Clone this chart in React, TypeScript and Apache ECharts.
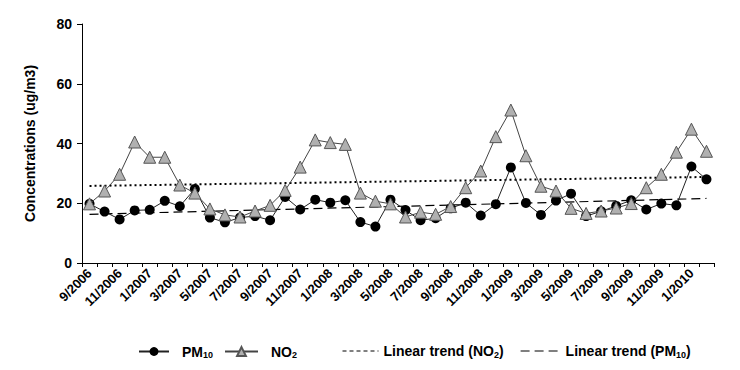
import React, { useEffect, useRef } from "react";
import * as echarts from "echarts";

const categories: string[] = [
  "9/2006", "10/2006", "11/2006", "12/2006",
  "1/2007", "2/2007", "3/2007", "4/2007", "5/2007", "6/2007", "7/2007", "8/2007", "9/2007", "10/2007", "11/2007", "12/2007",
  "1/2008", "2/2008", "3/2008", "4/2008", "5/2008", "6/2008", "7/2008", "8/2008", "9/2008", "10/2008", "11/2008", "12/2008",
  "1/2009", "2/2009", "3/2009", "4/2009", "5/2009", "6/2009", "7/2009", "8/2009", "9/2009", "10/2009", "11/2009", "12/2009",
  "1/2010", "2/2010",
];

const pm10: number[] = [
  19.8, 17.2, 14.6, 17.6, 17.8, 20.8, 19.0, 24.8, 15.2, 13.6, 15.2, 15.7,
  14.3, 22.1, 17.9, 21.2, 20.2, 21.0, 13.7, 12.2, 21.2, 17.7, 14.3, 15.0,
  18.3, 20.2, 15.9, 19.7, 32.0, 20.1, 16.1, 20.9, 23.2, 15.7, 17.3, 19.1,
  21.0, 17.9, 19.9, 19.3, 32.3, 28.0,
];

const no2: number[] = [
  19.8, 24.1, 29.7, 40.5, 35.4, 35.4, 26.1, 23.4, 18.1, 16.1, 15.4, 17.4,
  19.3, 24.3, 32.1, 41.2, 40.3, 39.7, 23.4, 20.7, 19.8, 15.4, 17.0, 16.3,
  18.9, 25.2, 30.8, 42.3, 51.2, 35.9, 25.7, 24.1, 18.3, 16.6, 17.4, 18.4,
  19.9, 25.2, 29.7, 37.1, 44.8, 37.4,
];

// Trend line values at the first and last month
const no2Trend: number[] = [25.8, 28.8];
const pm10Trend: number[] = [16.3, 21.6];

const yTicks: number[] = [0, 20, 40, 60, 80];

const FONT = "'Liberation Sans', Arial, sans-serif";

const richStyles = {
  g: { width: 8, fontSize: 14 },
  h: { width: 3, fontSize: 14 },
  b: { fontFamily: FONT, fontWeight: "bold", fontSize: 14, color: "#000" },
  s: { fontFamily: FONT, fontWeight: "bold", fontSize: 9, color: "#000", padding: [7, 0, 0, 0] },
};

function legendFormatter(name: string): string {
  if (name === "PM10") return "{g|}{b|PM}{s|10}";
  if (name === "NO2") return "{g|}{b|NO}{s|2}";
  if (name === "Linear trend (NO2)") return "{b|Linear trend (NO}{s|2}{b|)}";
  if (name === "Linear trend (PM10)") return "{h|}{b|Linear trend (PM}{s|10}{b|)}";
  return name;
}

function legendItem(name: string, left: number, width: number, height: number, extra: any = {}) {
  return {
    left,
    top: 345 - height / 2,
    itemWidth: width,
    itemHeight: height,
    data: [name],
    formatter: legendFormatter,
    textStyle: { rich: richStyles },
    ...extra,
  };
}

export default function App() {
  const ref = useRef<HTMLDivElement>(null);

  useEffect(() => {
    if (!ref.current) return;
    const chart = echarts.init(ref.current, null, { renderer: "svg" });
    const last = categories.length - 1;
    chart.setOption({
      animation: false,
      backgroundColor: "#fff",
      textStyle: { fontFamily: FONT },
      grid: { left: 82, right: 26, top: 24, bottom: 107, containLabel: false },
      legend: [
        legendItem("PM10", 133, 30, 11),
        legendItem("NO2", 219, 33, 11),
        legendItem("Linear trend (NO2)", 337, 36, 12, {
          lineStyle: { type: [4, 3], width: 1, color: "#000" },
          itemStyle: { color: "rgba(0,0,0,0)", borderWidth: 0 },
        }),
        legendItem("Linear trend (PM10)", 515, 37, 12, {
          lineStyle: { type: [9, 5], width: 1.2, color: "#000" },
          itemStyle: { color: "rgba(0,0,0,0)", borderWidth: 0 },
        }),
      ],
      xAxis: {
        type: "category",
        data: categories,
        boundaryGap: true,
        axisLine: { lineStyle: { color: "#000", width: 1 } },
        axisTick: { show: true, interval: 0, length: 4, alignWithLabel: false, lineStyle: { color: "#000" } },
        axisLabel: {
          interval: 1,
          rotate: 45,
          margin: 8,
          fontFamily: FONT,
          fontWeight: "bold",
          fontSize: 13,
          color: "#000",
        },
        splitLine: { show: false },
      },
      yAxis: {
        type: "value",
        min: yTicks[0],
        max: yTicks[yTicks.length - 1],
        interval: 20,
        name: "Concentrations (ug/m3)",
        nameLocation: "middle",
        nameGap: 45,
        nameTextStyle: { fontFamily: FONT, fontWeight: "bold", fontSize: 14, color: "#000" },
        axisLine: { show: true, lineStyle: { color: "#000", width: 1 } },
        axisTick: { show: true, length: 5, lineStyle: { color: "#000" } },
        axisLabel: { fontFamily: FONT, fontWeight: "bold", fontSize: 14, color: "#000", margin: 10 },
        splitLine: { show: false },
      },
      series: [
        {
          name: "Linear trend (NO2)",
          type: "line",
          data: [
            [categories[0], no2Trend[0]],
            [categories[last], no2Trend[1]],
          ],
          symbol: "none",
          lineStyle: { color: "#000", width: 2, type: [2, 3] },
          itemStyle: { color: "rgba(0,0,0,0)" },
          z: 1,
        },
        {
          name: "Linear trend (PM10)",
          type: "line",
          data: [
            [categories[0], pm10Trend[0]],
            [categories[last], pm10Trend[1]],
          ],
          symbol: "none",
          lineStyle: { color: "#000", width: 1.2, type: [9, 5] },
          itemStyle: { color: "rgba(0,0,0,0)" },
          z: 1,
        },
        {
          name: "PM10",
          type: "line",
          data: pm10,
          symbol: "circle",
          symbolSize: 10,
          showAllSymbol: true,
          lineStyle: { color: "#222", width: 1 },
          itemStyle: { color: "#000", borderColor: "#000", borderWidth: 0 },
          z: 3,
        },
        {
          name: "NO2",
          type: "line",
          data: no2,
          symbol: "triangle",
          symbolSize: 12,
          showAllSymbol: true,
          lineStyle: { color: "#444", width: 1 },
          itemStyle: { color: "#b0b0b0", borderColor: "#555", borderWidth: 1 },
          z: 4,
        },
      ],
    });
    return () => chart.dispose();
  }, []);

  return <div ref={ref} style={{ width: 740, height: 370, position: "absolute", left: 0, top: 0 }} />;
}
